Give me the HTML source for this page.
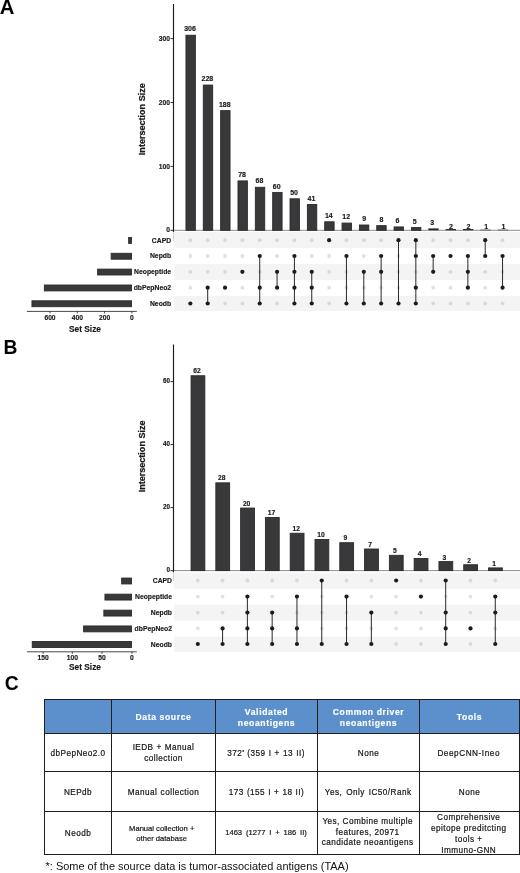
<!DOCTYPE html>
<html lang="en"><head><meta charset="utf-8"><title>Figure</title>
<style>
html,body{margin:0;padding:0;background:#fff;}
body{width:520px;height:873px;position:relative;overflow:hidden;font-family:"Liberation Sans", Arial, Helvetica, sans-serif;}
table.t{position:absolute;left:44px;top:699px;border-collapse:collapse;table-layout:fixed;width:475px;color:#161616;}
table.t td,table.t th{border:1px solid #1e1e1e;padding:0;text-align:center;vertical-align:middle;font-size:8.2px;letter-spacing:0.45px;line-height:10.9px;font-weight:normal;-webkit-text-stroke:0.2px #161616;}
table.t th{background:#5c90cd;color:#fff;font-weight:bold;font-size:8.6px;letter-spacing:0.62px;line-height:11.7px;-webkit-text-stroke:0.15px #fff;}
table.t .c{display:flex;align-items:center;justify-content:center;overflow:visible;}
table.t .c>span{display:block;position:relative;top:1.8px;}
table.t th .c>span{top:1.75px;}
table.t td.m3 .c>span{line-height:10.3px;top:-0.3px;left:-0.8px;}
table.t td.m4 .c>span{top:1.7px;left:-0.8px;}
table.t tr.r0 .c{height:33px;}
table.t tr.r1 .c{height:37px;}
table.t tr.r2 .c{height:39px;}
table.t tr.r3 .c{height:42px;}
table.t td.s{letter-spacing:0;font-size:7.6px;line-height:9.4px;}
table.t td.s1 .c>span{top:0.8px;left:-1.8px;}
table.t td.s2 .c>span{top:-0.2px;left:-0.5px;word-spacing:1.75px;}
table.t sup{font-size:5px;line-height:0;vertical-align:1.6px;letter-spacing:0;}
.fn{position:absolute;left:45.6px;top:859.2px;font-size:10.96px;color:#111;white-space:nowrap;line-height:14px;}

svg text{stroke:#1a1a1a;stroke-width:0.16px;}
svg text.pl{stroke:none;}
</style></head><body>
<svg width="520" height="873" viewBox="0 0 520 873" style="position:absolute;left:0;top:0" font-family='"Liberation Sans", Arial, Helvetica, sans-serif'>
<rect x="174.0" y="232" width="346.5" height="16" fill="#f4f4f4"/>
<rect x="174.0" y="264" width="346.5" height="16" fill="#f4f4f4"/>
<rect x="174.0" y="296" width="346.5" height="15" fill="#f4f4f4"/>
<line x1="173.5" y1="230.3" x2="173.5" y2="240.8" stroke="#cdcdcd" stroke-width="0.9"/>
<line x1="173.5" y1="230.3" x2="520" y2="230.3" stroke="#808080" stroke-width="0.9"/>
<rect x="185.95" y="35.22" width="9.40" height="195.08" fill="#39393b" stroke="#2a2a2c" stroke-width="0.9"/>
<text x="190.05" y="31.37" text-anchor="middle" font-size="7.0" font-weight="bold" fill="#1a1a1a">306</text>
<circle cx="190.35" cy="240.2" r="1.9" fill="#d9d9d9"/>
<circle cx="190.35" cy="256" r="1.9" fill="#e1e1e1"/>
<circle cx="190.35" cy="271.8" r="1.9" fill="#d9d9d9"/>
<circle cx="190.35" cy="287.7" r="1.9" fill="#e1e1e1"/>
<circle cx="190.35" cy="303.5" r="2.1" fill="#1c1c1c"/>
<rect x="203.29" y="85.06" width="9.40" height="145.24" fill="#39393b" stroke="#2a2a2c" stroke-width="0.9"/>
<text x="207.40" y="81.21" text-anchor="middle" font-size="7.0" font-weight="bold" fill="#1a1a1a">228</text>
<circle cx="207.69" cy="240.2" r="1.9" fill="#d9d9d9"/>
<circle cx="207.69" cy="256" r="1.9" fill="#e1e1e1"/>
<circle cx="207.69" cy="271.8" r="1.9" fill="#d9d9d9"/>
<line x1="207.69" y1="287.7" x2="207.69" y2="303.5" stroke="#2a2a2a" stroke-width="1"/>
<circle cx="207.69" cy="287.7" r="2.1" fill="#1c1c1c"/>
<circle cx="207.69" cy="303.5" r="2.1" fill="#1c1c1c"/>
<rect x="220.64" y="110.62" width="9.40" height="119.68" fill="#39393b" stroke="#2a2a2c" stroke-width="0.9"/>
<text x="224.74" y="106.77" text-anchor="middle" font-size="7.0" font-weight="bold" fill="#1a1a1a">188</text>
<circle cx="225.04" cy="240.2" r="1.9" fill="#d9d9d9"/>
<circle cx="225.04" cy="256" r="1.9" fill="#e1e1e1"/>
<circle cx="225.04" cy="271.8" r="1.9" fill="#d9d9d9"/>
<circle cx="225.04" cy="303.5" r="1.9" fill="#d9d9d9"/>
<circle cx="225.04" cy="287.7" r="2.1" fill="#1c1c1c"/>
<rect x="237.98" y="180.91" width="9.40" height="49.39" fill="#39393b" stroke="#2a2a2c" stroke-width="0.9"/>
<text x="242.09" y="177.06" text-anchor="middle" font-size="7.0" font-weight="bold" fill="#1a1a1a">78</text>
<circle cx="242.38" cy="240.2" r="1.9" fill="#d9d9d9"/>
<circle cx="242.38" cy="256" r="1.9" fill="#e1e1e1"/>
<circle cx="242.38" cy="287.7" r="1.9" fill="#e1e1e1"/>
<circle cx="242.38" cy="303.5" r="1.9" fill="#d9d9d9"/>
<circle cx="242.38" cy="271.8" r="2.1" fill="#1c1c1c"/>
<rect x="255.33" y="187.30" width="9.40" height="43.00" fill="#39393b" stroke="#2a2a2c" stroke-width="0.9"/>
<text x="259.43" y="183.45" text-anchor="middle" font-size="7.0" font-weight="bold" fill="#1a1a1a">68</text>
<circle cx="259.73" cy="240.2" r="1.9" fill="#d9d9d9"/>
<circle cx="259.73" cy="271.8" r="1.9" fill="#d9d9d9"/>
<line x1="259.73" y1="256" x2="259.73" y2="303.5" stroke="#2a2a2a" stroke-width="1"/>
<circle cx="259.73" cy="256" r="2.1" fill="#1c1c1c"/>
<circle cx="259.73" cy="287.7" r="2.1" fill="#1c1c1c"/>
<circle cx="259.73" cy="303.5" r="2.1" fill="#1c1c1c"/>
<rect x="272.68" y="192.41" width="9.40" height="37.89" fill="#39393b" stroke="#2a2a2c" stroke-width="0.9"/>
<text x="276.77" y="188.56" text-anchor="middle" font-size="7.0" font-weight="bold" fill="#1a1a1a">60</text>
<circle cx="277.07" cy="240.2" r="1.9" fill="#d9d9d9"/>
<circle cx="277.07" cy="256" r="1.9" fill="#e1e1e1"/>
<circle cx="277.07" cy="303.5" r="1.9" fill="#d9d9d9"/>
<line x1="277.07" y1="271.8" x2="277.07" y2="287.7" stroke="#2a2a2a" stroke-width="1"/>
<circle cx="277.07" cy="271.8" r="2.1" fill="#1c1c1c"/>
<circle cx="277.07" cy="287.7" r="2.1" fill="#1c1c1c"/>
<rect x="290.02" y="198.80" width="9.40" height="31.50" fill="#39393b" stroke="#2a2a2c" stroke-width="0.9"/>
<text x="294.12" y="194.95" text-anchor="middle" font-size="7.0" font-weight="bold" fill="#1a1a1a">50</text>
<circle cx="294.42" cy="240.2" r="1.9" fill="#d9d9d9"/>
<line x1="294.42" y1="256" x2="294.42" y2="303.5" stroke="#2a2a2a" stroke-width="1"/>
<circle cx="294.42" cy="256" r="2.1" fill="#1c1c1c"/>
<circle cx="294.42" cy="271.8" r="2.1" fill="#1c1c1c"/>
<circle cx="294.42" cy="287.7" r="2.1" fill="#1c1c1c"/>
<circle cx="294.42" cy="303.5" r="2.1" fill="#1c1c1c"/>
<rect x="307.37" y="204.55" width="9.40" height="25.75" fill="#39393b" stroke="#2a2a2c" stroke-width="0.9"/>
<text x="311.46" y="200.70" text-anchor="middle" font-size="7.0" font-weight="bold" fill="#1a1a1a">41</text>
<circle cx="311.76" cy="240.2" r="1.9" fill="#d9d9d9"/>
<circle cx="311.76" cy="256" r="1.9" fill="#e1e1e1"/>
<line x1="311.76" y1="271.8" x2="311.76" y2="303.5" stroke="#2a2a2a" stroke-width="1"/>
<circle cx="311.76" cy="271.8" r="2.1" fill="#1c1c1c"/>
<circle cx="311.76" cy="287.7" r="2.1" fill="#1c1c1c"/>
<circle cx="311.76" cy="303.5" r="2.1" fill="#1c1c1c"/>
<rect x="324.71" y="221.80" width="9.40" height="8.50" fill="#39393b" stroke="#2a2a2c" stroke-width="0.9"/>
<text x="328.81" y="217.95" text-anchor="middle" font-size="7.0" font-weight="bold" fill="#1a1a1a">14</text>
<circle cx="329.11" cy="256" r="1.9" fill="#e1e1e1"/>
<circle cx="329.11" cy="271.8" r="1.9" fill="#d9d9d9"/>
<circle cx="329.11" cy="287.7" r="1.9" fill="#e1e1e1"/>
<circle cx="329.11" cy="303.5" r="1.9" fill="#d9d9d9"/>
<circle cx="329.11" cy="240.2" r="2.1" fill="#1c1c1c"/>
<rect x="342.06" y="223.08" width="9.40" height="7.22" fill="#39393b" stroke="#2a2a2c" stroke-width="0.9"/>
<text x="346.15" y="219.23" text-anchor="middle" font-size="7.0" font-weight="bold" fill="#1a1a1a">12</text>
<circle cx="346.45" cy="240.2" r="1.9" fill="#d9d9d9"/>
<circle cx="346.45" cy="271.8" r="1.9" fill="#d9d9d9"/>
<circle cx="346.45" cy="287.7" r="1.9" fill="#e1e1e1"/>
<line x1="346.45" y1="256" x2="346.45" y2="303.5" stroke="#2a2a2a" stroke-width="1"/>
<circle cx="346.45" cy="256" r="2.1" fill="#1c1c1c"/>
<circle cx="346.45" cy="303.5" r="2.1" fill="#1c1c1c"/>
<rect x="359.40" y="225.00" width="9.40" height="5.30" fill="#39393b" stroke="#2a2a2c" stroke-width="0.9"/>
<text x="364.10" y="221.15" text-anchor="middle" font-size="7.0" font-weight="bold" fill="#1a1a1a">9</text>
<circle cx="363.80" cy="240.2" r="1.9" fill="#d9d9d9"/>
<circle cx="363.80" cy="256" r="1.9" fill="#e1e1e1"/>
<circle cx="363.80" cy="287.7" r="1.9" fill="#e1e1e1"/>
<line x1="363.80" y1="271.8" x2="363.80" y2="303.5" stroke="#2a2a2a" stroke-width="1"/>
<circle cx="363.80" cy="271.8" r="2.1" fill="#1c1c1c"/>
<circle cx="363.80" cy="303.5" r="2.1" fill="#1c1c1c"/>
<rect x="376.75" y="225.64" width="9.40" height="4.66" fill="#39393b" stroke="#2a2a2c" stroke-width="0.9"/>
<text x="381.44" y="221.79" text-anchor="middle" font-size="7.0" font-weight="bold" fill="#1a1a1a">8</text>
<circle cx="381.14" cy="240.2" r="1.9" fill="#d9d9d9"/>
<circle cx="381.14" cy="287.7" r="1.9" fill="#e1e1e1"/>
<line x1="381.14" y1="256" x2="381.14" y2="303.5" stroke="#2a2a2a" stroke-width="1"/>
<circle cx="381.14" cy="256" r="2.1" fill="#1c1c1c"/>
<circle cx="381.14" cy="271.8" r="2.1" fill="#1c1c1c"/>
<circle cx="381.14" cy="303.5" r="2.1" fill="#1c1c1c"/>
<rect x="394.09" y="226.92" width="9.40" height="3.38" fill="#39393b" stroke="#2a2a2c" stroke-width="0.9"/>
<text x="397.49" y="223.10" text-anchor="middle" font-size="7.0" font-weight="bold" fill="#1a1a1a">6</text>
<circle cx="398.49" cy="256" r="1.9" fill="#e1e1e1"/>
<circle cx="398.49" cy="271.8" r="1.9" fill="#d9d9d9"/>
<circle cx="398.49" cy="287.7" r="1.9" fill="#e1e1e1"/>
<line x1="398.49" y1="240.2" x2="398.49" y2="303.5" stroke="#2a2a2a" stroke-width="1"/>
<circle cx="398.49" cy="240.2" r="2.1" fill="#1c1c1c"/>
<circle cx="398.49" cy="303.5" r="2.1" fill="#1c1c1c"/>
<rect x="411.44" y="227.56" width="9.40" height="2.75" fill="#39393b" stroke="#2a2a2c" stroke-width="0.9"/>
<text x="414.74" y="223.80" text-anchor="middle" font-size="7.0" font-weight="bold" fill="#1a1a1a">5</text>
<circle cx="415.83" cy="271.8" r="1.9" fill="#d9d9d9"/>
<line x1="415.83" y1="240.2" x2="415.83" y2="303.5" stroke="#2a2a2a" stroke-width="1"/>
<circle cx="415.83" cy="240.2" r="2.1" fill="#1c1c1c"/>
<circle cx="415.83" cy="256" r="2.1" fill="#1c1c1c"/>
<circle cx="415.83" cy="287.7" r="2.1" fill="#1c1c1c"/>
<circle cx="415.83" cy="303.5" r="2.1" fill="#1c1c1c"/>
<rect x="428.33" y="228.38" width="10.3" height="1.92" fill="#2c2c2e"/>
<text x="432.18" y="225.10" text-anchor="middle" font-size="7.0" font-weight="bold" fill="#1a1a1a">3</text>
<circle cx="433.18" cy="240.2" r="1.9" fill="#d9d9d9"/>
<circle cx="433.18" cy="287.7" r="1.9" fill="#e1e1e1"/>
<circle cx="433.18" cy="303.5" r="1.9" fill="#d9d9d9"/>
<line x1="433.18" y1="256" x2="433.18" y2="271.8" stroke="#2a2a2a" stroke-width="1"/>
<circle cx="433.18" cy="256" r="2.1" fill="#1c1c1c"/>
<circle cx="433.18" cy="271.8" r="2.1" fill="#1c1c1c"/>
<rect x="445.67" y="229.02" width="10.3" height="1.28" fill="#2c2c2e"/>
<text x="451.02" y="228.50" text-anchor="middle" font-size="7.0" font-weight="bold" fill="#1a1a1a">2</text>
<circle cx="450.52" cy="240.2" r="1.9" fill="#d9d9d9"/>
<circle cx="450.52" cy="271.8" r="1.9" fill="#d9d9d9"/>
<circle cx="450.52" cy="287.7" r="1.9" fill="#e1e1e1"/>
<circle cx="450.52" cy="303.5" r="1.9" fill="#d9d9d9"/>
<circle cx="450.52" cy="256" r="2.1" fill="#1c1c1c"/>
<rect x="463.02" y="229.02" width="10.3" height="1.28" fill="#2c2c2e"/>
<text x="468.37" y="228.50" text-anchor="middle" font-size="7.0" font-weight="bold" fill="#1a1a1a">2</text>
<circle cx="467.87" cy="240.2" r="1.9" fill="#d9d9d9"/>
<circle cx="467.87" cy="303.5" r="1.9" fill="#d9d9d9"/>
<line x1="467.87" y1="256" x2="467.87" y2="287.7" stroke="#2a2a2a" stroke-width="1"/>
<circle cx="467.87" cy="256" r="2.1" fill="#1c1c1c"/>
<circle cx="467.87" cy="271.8" r="2.1" fill="#1c1c1c"/>
<circle cx="467.87" cy="287.7" r="2.1" fill="#1c1c1c"/>
<rect x="480.37" y="229.66" width="10.3" height="0.64" fill="#39393b"/>
<text x="486.12" y="228.50" text-anchor="middle" font-size="7.0" font-weight="bold" fill="#1a1a1a">1</text>
<circle cx="485.21" cy="271.8" r="1.9" fill="#d9d9d9"/>
<circle cx="485.21" cy="287.7" r="1.9" fill="#e1e1e1"/>
<circle cx="485.21" cy="303.5" r="1.9" fill="#d9d9d9"/>
<line x1="485.21" y1="240.2" x2="485.21" y2="256" stroke="#2a2a2a" stroke-width="1"/>
<circle cx="485.21" cy="240.2" r="2.1" fill="#1c1c1c"/>
<circle cx="485.21" cy="256" r="2.1" fill="#1c1c1c"/>
<rect x="497.71" y="229.66" width="10.3" height="0.64" fill="#39393b"/>
<text x="503.46" y="228.50" text-anchor="middle" font-size="7.0" font-weight="bold" fill="#1a1a1a">1</text>
<circle cx="502.56" cy="240.2" r="1.9" fill="#d9d9d9"/>
<circle cx="502.56" cy="271.8" r="1.9" fill="#d9d9d9"/>
<circle cx="502.56" cy="303.5" r="1.9" fill="#d9d9d9"/>
<line x1="502.56" y1="256" x2="502.56" y2="287.7" stroke="#2a2a2a" stroke-width="1"/>
<circle cx="502.56" cy="256" r="2.1" fill="#1c1c1c"/>
<circle cx="502.56" cy="287.7" r="2.1" fill="#1c1c1c"/>
<line x1="173.5" y1="4" x2="173.5" y2="231.9" stroke="#1a1a1a" stroke-width="1.15"/>
<line x1="170.5" y1="230.30" x2="173.5" y2="230.30" stroke="#1a1a1a" stroke-width="0.9"/>
<text x="169.9" y="232.40" text-anchor="end" font-size="6.7" font-weight="bold" fill="#1a1a1a">0</text>
<line x1="170.5" y1="166.40" x2="173.5" y2="166.40" stroke="#1a1a1a" stroke-width="0.9"/>
<text x="169.9" y="168.50" text-anchor="end" font-size="6.7" font-weight="bold" fill="#1a1a1a">100</text>
<line x1="170.5" y1="102.50" x2="173.5" y2="102.50" stroke="#1a1a1a" stroke-width="0.9"/>
<text x="169.9" y="104.60" text-anchor="end" font-size="6.7" font-weight="bold" fill="#1a1a1a">200</text>
<line x1="170.5" y1="38.60" x2="173.5" y2="38.60" stroke="#1a1a1a" stroke-width="0.9"/>
<text x="169.9" y="40.70" text-anchor="end" font-size="6.7" font-weight="bold" fill="#1a1a1a">300</text>
<text transform="translate(144.7,119.2) rotate(-90)" text-anchor="middle" font-size="9.05" font-weight="bold" fill="#1a1a1a" style="stroke-width:0.25px">Intersection Size</text>
<text x="171.1" y="242.6" text-anchor="end" font-size="6.8" font-weight="bold" fill="#1a1a1a">CAPD</text>
<text x="171.1" y="258.4" text-anchor="end" font-size="6.8" font-weight="bold" fill="#1a1a1a">Nepdb</text>
<text x="171.1" y="274.2" text-anchor="end" font-size="6.8" font-weight="bold" fill="#1a1a1a">Neopeptide</text>
<text x="171.1" y="290.09999999999997" text-anchor="end" font-size="6.8" font-weight="bold" fill="#1a1a1a">dbPepNeo2</text>
<text x="171.1" y="305.9" text-anchor="end" font-size="6.8" font-weight="bold" fill="#1a1a1a">Neodb</text>
<rect x="128.65" y="237.50" width="2.80" height="5.9" fill="#39393b" stroke="#2a2a2c" stroke-width="0.9"/>
<rect x="111.15" y="253.30" width="20.30" height="5.9" fill="#39393b" stroke="#2a2a2c" stroke-width="0.9"/>
<rect x="97.65" y="269.10" width="33.80" height="5.9" fill="#39393b" stroke="#2a2a2c" stroke-width="0.9"/>
<rect x="44.35" y="285.00" width="87.10" height="5.9" fill="#39393b" stroke="#2a2a2c" stroke-width="0.9"/>
<rect x="31.95" y="300.80" width="99.50" height="5.9" fill="#39393b" stroke="#2a2a2c" stroke-width="0.9"/>
<line x1="26.9" y1="311.4" x2="136.8" y2="311.4" stroke="#1a1a1a" stroke-width="0.8"/>
<line x1="131.9" y1="311.4" x2="131.9" y2="313.4" stroke="#1a1a1a" stroke-width="0.8"/>
<text x="131.9" y="319.5" text-anchor="middle" font-size="6.7" font-weight="bold" fill="#1a1a1a">0</text>
<line x1="104.6" y1="311.4" x2="104.6" y2="313.4" stroke="#1a1a1a" stroke-width="0.8"/>
<text x="104.6" y="319.5" text-anchor="middle" font-size="6.7" font-weight="bold" fill="#1a1a1a">200</text>
<line x1="77.3" y1="311.4" x2="77.3" y2="313.4" stroke="#1a1a1a" stroke-width="0.8"/>
<text x="77.3" y="319.5" text-anchor="middle" font-size="6.7" font-weight="bold" fill="#1a1a1a">400</text>
<line x1="50.0" y1="311.4" x2="50.0" y2="313.4" stroke="#1a1a1a" stroke-width="0.8"/>
<text x="50.0" y="319.5" text-anchor="middle" font-size="6.7" font-weight="bold" fill="#1a1a1a">600</text>
<text x="85" y="332.0" text-anchor="middle" font-size="8.3" font-weight="bold" fill="#1a1a1a">Set Size</text>
<rect x="174.0" y="572.7" width="346.5" height="16.049999999999955" fill="#f4f4f4"/>
<rect x="174.0" y="604.75" width="346.5" height="15.75" fill="#f4f4f4"/>
<rect x="174.0" y="636.75" width="346.5" height="15.25" fill="#f4f4f4"/>
<line x1="173.5" y1="570.6" x2="173.5" y2="581.1" stroke="#cdcdcd" stroke-width="0.9"/>
<line x1="173.5" y1="570.6" x2="520" y2="570.6" stroke="#808080" stroke-width="0.9"/>
<rect x="191.05" y="375.75" width="13.80" height="194.85" fill="#39393b" stroke="#2a2a2c" stroke-width="0.9"/>
<text x="197.05" y="373.30" text-anchor="middle" font-size="6.7" font-weight="bold" fill="#1a1a1a">62</text>
<circle cx="197.80" cy="580.5" r="1.9" fill="#d9d9d9"/>
<circle cx="197.80" cy="596.6" r="1.9" fill="#e1e1e1"/>
<circle cx="197.80" cy="612.6" r="1.9" fill="#d9d9d9"/>
<circle cx="197.80" cy="628.4" r="1.9" fill="#e1e1e1"/>
<circle cx="197.80" cy="644.0" r="2.1" fill="#1c1c1c"/>
<rect x="215.84" y="482.85" width="13.80" height="87.75" fill="#39393b" stroke="#2a2a2c" stroke-width="0.9"/>
<text x="221.84" y="480.40" text-anchor="middle" font-size="6.7" font-weight="bold" fill="#1a1a1a">28</text>
<circle cx="222.59" cy="580.5" r="1.9" fill="#d9d9d9"/>
<circle cx="222.59" cy="596.6" r="1.9" fill="#e1e1e1"/>
<circle cx="222.59" cy="612.6" r="1.9" fill="#d9d9d9"/>
<line x1="222.59" y1="628.4" x2="222.59" y2="644.0" stroke="#2a2a2a" stroke-width="1"/>
<circle cx="222.59" cy="628.4" r="2.1" fill="#1c1c1c"/>
<circle cx="222.59" cy="644.0" r="2.1" fill="#1c1c1c"/>
<rect x="240.63" y="508.05" width="13.80" height="62.55" fill="#39393b" stroke="#2a2a2c" stroke-width="0.9"/>
<text x="246.63" y="505.60" text-anchor="middle" font-size="6.7" font-weight="bold" fill="#1a1a1a">20</text>
<circle cx="247.38" cy="580.5" r="1.9" fill="#d9d9d9"/>
<line x1="247.38" y1="596.6" x2="247.38" y2="644.0" stroke="#2a2a2a" stroke-width="1"/>
<circle cx="247.38" cy="596.6" r="2.1" fill="#1c1c1c"/>
<circle cx="247.38" cy="612.6" r="2.1" fill="#1c1c1c"/>
<circle cx="247.38" cy="628.4" r="2.1" fill="#1c1c1c"/>
<circle cx="247.38" cy="644.0" r="2.1" fill="#1c1c1c"/>
<rect x="265.42" y="517.50" width="13.80" height="53.10" fill="#39393b" stroke="#2a2a2c" stroke-width="0.9"/>
<text x="271.42" y="515.05" text-anchor="middle" font-size="6.7" font-weight="bold" fill="#1a1a1a">17</text>
<circle cx="272.17" cy="580.5" r="1.9" fill="#d9d9d9"/>
<circle cx="272.17" cy="596.6" r="1.9" fill="#e1e1e1"/>
<line x1="272.17" y1="612.6" x2="272.17" y2="644.0" stroke="#2a2a2a" stroke-width="1"/>
<circle cx="272.17" cy="612.6" r="2.1" fill="#1c1c1c"/>
<circle cx="272.17" cy="628.4" r="2.1" fill="#1c1c1c"/>
<circle cx="272.17" cy="644.0" r="2.1" fill="#1c1c1c"/>
<rect x="290.21" y="533.25" width="13.80" height="37.35" fill="#39393b" stroke="#2a2a2c" stroke-width="0.9"/>
<text x="296.21" y="530.80" text-anchor="middle" font-size="6.7" font-weight="bold" fill="#1a1a1a">12</text>
<circle cx="296.96" cy="580.5" r="1.9" fill="#d9d9d9"/>
<circle cx="296.96" cy="612.6" r="1.9" fill="#d9d9d9"/>
<line x1="296.96" y1="596.6" x2="296.96" y2="644.0" stroke="#2a2a2a" stroke-width="1"/>
<circle cx="296.96" cy="596.6" r="2.1" fill="#1c1c1c"/>
<circle cx="296.96" cy="628.4" r="2.1" fill="#1c1c1c"/>
<circle cx="296.96" cy="644.0" r="2.1" fill="#1c1c1c"/>
<rect x="315.00" y="539.55" width="13.80" height="31.05" fill="#39393b" stroke="#2a2a2c" stroke-width="0.9"/>
<text x="321.00" y="537.10" text-anchor="middle" font-size="6.7" font-weight="bold" fill="#1a1a1a">10</text>
<circle cx="321.75" cy="596.6" r="1.9" fill="#e1e1e1"/>
<circle cx="321.75" cy="612.6" r="1.9" fill="#d9d9d9"/>
<circle cx="321.75" cy="628.4" r="1.9" fill="#e1e1e1"/>
<line x1="321.75" y1="580.5" x2="321.75" y2="644.0" stroke="#2a2a2a" stroke-width="1"/>
<circle cx="321.75" cy="580.5" r="2.1" fill="#1c1c1c"/>
<circle cx="321.75" cy="644.0" r="2.1" fill="#1c1c1c"/>
<rect x="339.79" y="542.70" width="13.80" height="27.90" fill="#39393b" stroke="#2a2a2c" stroke-width="0.9"/>
<text x="345.29" y="540.25" text-anchor="middle" font-size="6.7" font-weight="bold" fill="#1a1a1a">9</text>
<circle cx="346.54" cy="580.5" r="1.9" fill="#d9d9d9"/>
<circle cx="346.54" cy="612.6" r="1.9" fill="#d9d9d9"/>
<circle cx="346.54" cy="628.4" r="1.9" fill="#e1e1e1"/>
<line x1="346.54" y1="596.6" x2="346.54" y2="644.0" stroke="#2a2a2a" stroke-width="1"/>
<circle cx="346.54" cy="596.6" r="2.1" fill="#1c1c1c"/>
<circle cx="346.54" cy="644.0" r="2.1" fill="#1c1c1c"/>
<rect x="364.58" y="549.00" width="13.80" height="21.60" fill="#39393b" stroke="#2a2a2c" stroke-width="0.9"/>
<text x="370.08" y="546.55" text-anchor="middle" font-size="6.7" font-weight="bold" fill="#1a1a1a">7</text>
<circle cx="371.33" cy="580.5" r="1.9" fill="#d9d9d9"/>
<circle cx="371.33" cy="596.6" r="1.9" fill="#e1e1e1"/>
<circle cx="371.33" cy="628.4" r="1.9" fill="#e1e1e1"/>
<line x1="371.33" y1="612.6" x2="371.33" y2="644.0" stroke="#2a2a2a" stroke-width="1"/>
<circle cx="371.33" cy="612.6" r="2.1" fill="#1c1c1c"/>
<circle cx="371.33" cy="644.0" r="2.1" fill="#1c1c1c"/>
<rect x="389.37" y="555.30" width="13.80" height="15.30" fill="#39393b" stroke="#2a2a2c" stroke-width="0.9"/>
<text x="394.87" y="552.85" text-anchor="middle" font-size="6.7" font-weight="bold" fill="#1a1a1a">5</text>
<circle cx="396.12" cy="596.6" r="1.9" fill="#e1e1e1"/>
<circle cx="396.12" cy="612.6" r="1.9" fill="#d9d9d9"/>
<circle cx="396.12" cy="628.4" r="1.9" fill="#e1e1e1"/>
<circle cx="396.12" cy="644.0" r="1.9" fill="#d9d9d9"/>
<circle cx="396.12" cy="580.5" r="2.1" fill="#1c1c1c"/>
<rect x="414.16" y="558.45" width="13.80" height="12.15" fill="#39393b" stroke="#2a2a2c" stroke-width="0.9"/>
<text x="419.66" y="556.00" text-anchor="middle" font-size="6.7" font-weight="bold" fill="#1a1a1a">4</text>
<circle cx="420.91" cy="580.5" r="1.9" fill="#d9d9d9"/>
<circle cx="420.91" cy="612.6" r="1.9" fill="#d9d9d9"/>
<circle cx="420.91" cy="628.4" r="1.9" fill="#e1e1e1"/>
<circle cx="420.91" cy="644.0" r="1.9" fill="#d9d9d9"/>
<circle cx="420.91" cy="596.6" r="2.1" fill="#1c1c1c"/>
<rect x="438.95" y="561.60" width="13.80" height="9.00" fill="#39393b" stroke="#2a2a2c" stroke-width="0.9"/>
<text x="444.45" y="559.65" text-anchor="middle" font-size="6.7" font-weight="bold" fill="#1a1a1a">3</text>
<circle cx="445.70" cy="596.6" r="1.9" fill="#e1e1e1"/>
<line x1="445.70" y1="580.5" x2="445.70" y2="644.0" stroke="#2a2a2a" stroke-width="1"/>
<circle cx="445.70" cy="580.5" r="2.1" fill="#1c1c1c"/>
<circle cx="445.70" cy="612.6" r="2.1" fill="#1c1c1c"/>
<circle cx="445.70" cy="628.4" r="2.1" fill="#1c1c1c"/>
<circle cx="445.70" cy="644.0" r="2.1" fill="#1c1c1c"/>
<rect x="463.74" y="564.75" width="13.80" height="5.85" fill="#39393b" stroke="#2a2a2c" stroke-width="0.9"/>
<text x="469.24" y="563.05" text-anchor="middle" font-size="6.7" font-weight="bold" fill="#1a1a1a">2</text>
<circle cx="470.49" cy="580.5" r="1.9" fill="#d9d9d9"/>
<circle cx="470.49" cy="596.6" r="1.9" fill="#e1e1e1"/>
<circle cx="470.49" cy="612.6" r="1.9" fill="#d9d9d9"/>
<circle cx="470.49" cy="644.0" r="1.9" fill="#d9d9d9"/>
<circle cx="470.49" cy="628.4" r="2.1" fill="#1c1c1c"/>
<rect x="488.53" y="567.90" width="13.80" height="2.70" fill="#39393b" stroke="#2a2a2c" stroke-width="0.9"/>
<text x="494.03" y="566.20" text-anchor="middle" font-size="6.7" font-weight="bold" fill="#1a1a1a">1</text>
<circle cx="495.28" cy="580.5" r="1.9" fill="#d9d9d9"/>
<circle cx="495.28" cy="628.4" r="1.9" fill="#e1e1e1"/>
<line x1="495.28" y1="596.6" x2="495.28" y2="644.0" stroke="#2a2a2a" stroke-width="1"/>
<circle cx="495.28" cy="596.6" r="2.1" fill="#1c1c1c"/>
<circle cx="495.28" cy="612.6" r="2.1" fill="#1c1c1c"/>
<circle cx="495.28" cy="644.0" r="2.1" fill="#1c1c1c"/>
<line x1="173.5" y1="344.5" x2="173.5" y2="572.2" stroke="#1a1a1a" stroke-width="1.15"/>
<line x1="170.5" y1="570.60" x2="173.5" y2="570.60" stroke="#1a1a1a" stroke-width="0.9"/>
<text x="169.9" y="572.10" text-anchor="end" font-size="6.3" font-weight="bold" fill="#1a1a1a">0</text>
<line x1="170.5" y1="507.60" x2="173.5" y2="507.60" stroke="#1a1a1a" stroke-width="0.9"/>
<text x="169.9" y="509.10" text-anchor="end" font-size="6.3" font-weight="bold" fill="#1a1a1a">20</text>
<line x1="170.5" y1="444.60" x2="173.5" y2="444.60" stroke="#1a1a1a" stroke-width="0.9"/>
<text x="169.9" y="446.10" text-anchor="end" font-size="6.3" font-weight="bold" fill="#1a1a1a">40</text>
<line x1="170.5" y1="381.60" x2="173.5" y2="381.60" stroke="#1a1a1a" stroke-width="0.9"/>
<text x="169.9" y="383.10" text-anchor="end" font-size="6.3" font-weight="bold" fill="#1a1a1a">60</text>
<text transform="translate(144.7,456.4) rotate(-90)" text-anchor="middle" font-size="9.05" font-weight="bold" fill="#1a1a1a" style="stroke-width:0.25px">Intersection Size</text>
<text x="172.0" y="583.3" text-anchor="end" font-size="6.8" font-weight="bold" fill="#1a1a1a">CAPD</text>
<text x="172.0" y="599.4" text-anchor="end" font-size="6.8" font-weight="bold" fill="#1a1a1a">Neopeptide</text>
<text x="172.0" y="615.4" text-anchor="end" font-size="6.8" font-weight="bold" fill="#1a1a1a">Nepdb</text>
<text x="172.0" y="631.1999999999999" text-anchor="end" font-size="6.8" font-weight="bold" fill="#1a1a1a">dbPepNeo2</text>
<text x="172.0" y="646.8" text-anchor="end" font-size="6.8" font-weight="bold" fill="#1a1a1a">Neodb</text>
<rect x="121.65" y="578.05" width="9.80" height="5.9" fill="#39393b" stroke="#2a2a2c" stroke-width="0.9"/>
<rect x="104.95" y="594.15" width="26.50" height="5.9" fill="#39393b" stroke="#2a2a2c" stroke-width="0.9"/>
<rect x="103.85" y="610.15" width="27.60" height="5.9" fill="#39393b" stroke="#2a2a2c" stroke-width="0.9"/>
<rect x="83.65" y="625.95" width="47.80" height="5.9" fill="#39393b" stroke="#2a2a2c" stroke-width="0.9"/>
<rect x="32.25" y="641.55" width="99.20" height="5.9" fill="#39393b" stroke="#2a2a2c" stroke-width="0.9"/>
<line x1="26.9" y1="651.8" x2="136.8" y2="651.8" stroke="#1a1a1a" stroke-width="0.8"/>
<line x1="131.9" y1="651.8" x2="131.9" y2="653.8" stroke="#1a1a1a" stroke-width="0.8"/>
<text x="131.9" y="659.8" text-anchor="middle" font-size="6.7" font-weight="bold" fill="#1a1a1a">0</text>
<line x1="102.0" y1="651.8" x2="102.0" y2="653.8" stroke="#1a1a1a" stroke-width="0.8"/>
<text x="102.0" y="659.8" text-anchor="middle" font-size="6.7" font-weight="bold" fill="#1a1a1a">50</text>
<line x1="72.3" y1="651.8" x2="72.3" y2="653.8" stroke="#1a1a1a" stroke-width="0.8"/>
<text x="72.3" y="659.8" text-anchor="middle" font-size="6.7" font-weight="bold" fill="#1a1a1a">100</text>
<line x1="43.1" y1="651.8" x2="43.1" y2="653.8" stroke="#1a1a1a" stroke-width="0.8"/>
<text x="43.1" y="659.8" text-anchor="middle" font-size="6.7" font-weight="bold" fill="#1a1a1a">150</text>
<text x="85" y="669.9" text-anchor="middle" font-size="8.3" font-weight="bold" fill="#1a1a1a">Set Size</text>
<text x="-0.2" y="14.35" font-size="20.3" font-weight="bold" fill="#000" class="pl">A</text>
<text x="3.4" y="353.8" font-size="19.3" font-weight="bold" fill="#000" class="pl">B</text>
<text x="4.8" y="689.7" font-size="19.3" font-weight="bold" fill="#000" class="pl">C</text>
</svg>
<table class="t">
<colgroup><col style="width:67px"><col style="width:104px"><col style="width:102px"><col style="width:102px"><col style="width:100px"></colgroup>
<tr class="r0"><th><div class="c"><span></span></div></th><th><div class="c"><span>Data source</span></div></th><th><div class="c"><span>Validated<br>neoantigens</span></div></th><th><div class="c"><span>Common driver<br>neoantigens</span></div></th><th><div class="c"><span>Tools</span></div></th></tr>
<tr class="r1"><td><div class="c"><span>dbPepNeo2.0</span></div></td><td><div class="c"><span style="word-spacing:0.3px">IEDB + Manual<br>collection</span></div></td><td><div class="c"><span style="left:-0.5px;word-spacing:0.45px">372<sup>*</sup> (359 I + 13 II)</span></div></td><td><div class="c"><span>None</span></div></td><td><div class="c"><span style="letter-spacing:0.55px;left:-0.8px">DeepCNN-Ineo</span></div></td></tr>
<tr class="r2"><td><div class="c"><span>NEPdb</span></div></td><td><div class="c"><span style="word-spacing:0.6px">Manual collection</span></div></td><td><div class="c"><span style="word-spacing:0.4px">173 (155 I + 18 II)</span></div></td><td><div class="c"><span style="word-spacing:1.2px;left:-0.4px">Yes, Only IC50/Rank</span></div></td><td><div class="c"><span>None</span></div></td></tr>
<tr class="r3"><td><div class="c"><span>Neodb</span></div></td><td class="s s1"><div class="c"><span>Manual collection +<br>other database</span></div></td><td class="s s2"><div class="c"><span>1463 (1277 I + 186 II)</span></div></td><td class="m3"><div class="c"><span>Yes, Combine multiple<br>features, 20971<br>candidate neoantigens</span></div></td><td class="m4"><div class="c"><span>Comprehensive<br>epitope preditcting<br>tools +<br>Immuno-GNN</span></div></td></tr>
</table>
<div class="fn">*: Some of the source data is tumor-associated antigens (TAA)</div>

</body></html>
